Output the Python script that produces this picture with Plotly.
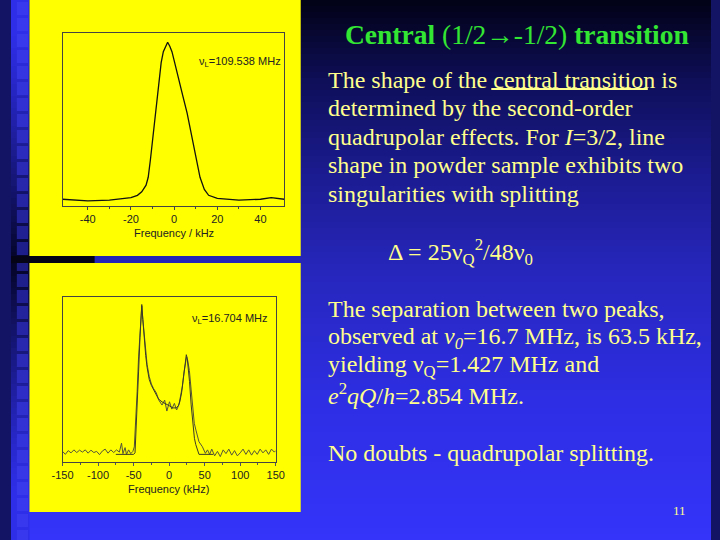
import plotly.graph_objects as go

# ---------------- data ----------------
# Top spectrum, nu_L = 109.538 MHz
top_freq = [-51.7, -45, -40, -30, -20, -17, -15, -13, -12, -11, -10, -9, -8, -7, -6,
            -5, -4, -3, -2, -1, 0, 2, 4, 6, 8, 10, 12, 14, 16, 20, 25, 30, 40, 45, 51]
top_int = [0.0, -0.008, -0.01, -0.005, 0.01, 0.025, 0.047, 0.09, 0.14, 0.25, 0.375, 0.5, 0.63, 0.76, 0.87,
           0.94, 0.97, 1.0, 0.975, 0.94, 0.885, 0.78, 0.66, 0.55, 0.42, 0.27, 0.14, 0.063, 0.025, 0.005, 0.0, -0.005, 0.0, 0.01, 0.0]

# Bottom spectrum, nu_L = 16.704 MHz : simulated (smooth) line
sim_freq = [-75, -50, -48, -47, -45, -43, -41, -39.5, -38.5, -37, -35, -33, -31, -28, -25, -22, -19, -15,
            -10, -5, 0, 5, 10, 13, 15, 17.5, 19.5, 21.5, 23, 24.2, 25.5, 27, 28.7, 31, 33.3, 35.6, 37.5, 39.3, 42, 62]
sim_int = [0, 0, 0.01, 0.1, 0.3, 0.55, 0.78, 0.95, 1.0, 0.9, 0.77, 0.66, 0.58, 0.5, 0.46, 0.43, 0.4, 0.37,
           0.35, 0.34, 0.325, 0.31, 0.31, 0.325, 0.35, 0.41, 0.49, 0.58, 0.63, 0.665, 0.64, 0.58, 0.485, 0.33, 0.2, 0.107, 0.065, 0.04, 0.0, 0.0]

# Bottom spectrum : experimental (noisy) line
exp_freq = [-150, -146, -142, -138, -134, -130, -126, -122, -118, -114, -110, -106, -102, -98, -94, -90, -86, -82, -78, -74, -70,
            -67, -65, -62, -60, -57, -54, -51,
            -49, -47, -45, -43, -41, -39.5, -38.5,
            -37, -35, -33, -31, -28, -25, -22, -18,
            -14.5, -10, -6.3, -3.2, 0.5, 3.7, 7.4, 10.5, 13.7,
            16, 18.5, 21, 23, 24.5, 26, 28.5,
            31, 33, 35.4, 37.7, 40, 42, 46.8, 51,
            54, 57, 60, 64, 68, 72, 76, 80, 84, 88, 92, 96, 100,
            104, 108, 112, 116, 120, 124, 128, 132, 136, 140, 144, 148, 150]
exp_int = [0.02, 0.0, 0.025, 0.01, 0.03, 0.012, 0.028, 0.015, 0.03, 0.008, 0.028, 0.012, 0.02, -0.002, 0.022, 0.035, 0.008, 0.03, 0.012, 0.03, 0.015,
           0.075, 0.005, 0.045, 0.0, 0.03, 0.005, 0.02,
           0.05, 0.2, 0.42, 0.65, 0.84, 0.96, 0.99,
           0.9, 0.79, 0.68, 0.6, 0.52, 0.47, 0.44, 0.41,
           0.362, 0.329, 0.362, 0.289, 0.351, 0.302, 0.34, 0.296, 0.33,
           0.38, 0.45, 0.55, 0.62, 0.65, 0.63, 0.56,
           0.43, 0.3, 0.207, 0.162, 0.118, 0.084, 0.051, 0.007,
           0.03, 0.0, 0.035, -0.01, 0.02, -0.015, 0.03, 0.005, 0.035, -0.005, 0.025, -0.01, 0.01,
           0.035, 0.0, 0.03, -0.005, 0.025, 0.0, 0.035, 0.01, 0.03, 0.0, 0.035, 0.015, 0.025]

top_ticks = [-40, -20, 0, 20, 40]
top_ticktext = ["-40", "-20", "0", "20", "40"]
bot_ticks = [-150, -100, -50, 0, 50, 100, 150]
bot_ticktext = ["-150", "-100", "-50", "0", "50", "100", "150"]

# ---------------- layout helpers ----------------
W, H = 720, 540
def X(p): return p / W
def Y(p): return 1 - p / H

def lerp(a, b, t):
    return tuple(int(round(a[i] + (b[i] - a[i]) * t)) for i in range(3))

def rgb(c): return "rgb(%d,%d,%d)" % c

bg_stops = [(0, (2, 2, 22)), (80, (14, 14, 88)), (180, (28, 28, 148)), (270, (38, 38, 188)),
            (400, (46, 46, 228)), (540, (52, 52, 250))]
def bg_col(y):
    for (y0, c0), (y1, c1) in zip(bg_stops[:-1], bg_stops[1:]):
        if y0 <= y <= y1:
            return lerp(c0, c1, (y - y0) / (y1 - y0))
    return bg_stops[-1][1]

shapes = []
step = 6
for y in range(0, H, step):
    shapes.append(dict(type="rect", xref="paper", yref="paper", layer="below",
                       x0=0, x1=1, y0=Y(y + step), y1=Y(y), line=dict(width=0),
                       fillcolor=rgb(bg_col(y + step / 2))))

# left decorative strip
def strip_t(y):
    t = max(0.0, 1 - abs(y - 262) / 230.0)
    return t ** 1.2
for y in range(0, H, step):
    t = strip_t(y + step / 2)
    shapes.append(dict(type="rect", xref="paper", yref="paper", layer="below",
                       x0=0, x1=X(19), y0=Y(y + step), y1=Y(y), line=dict(width=0),
                       fillcolor=rgb(lerp((46, 46, 232), (4, 4, 38), t))))
for y in range(2, H, 16):
    t = strip_t(y + 6)
    shapes.append(dict(type="rect", xref="paper", yref="paper", layer="below",
                       x0=X(6), x1=X(17.5), y0=Y(y + 13), y1=Y(y), line=dict(width=0),
                       fillcolor=rgb(lerp((56, 56, 238), (28, 28, 130), t))))

# dark bar between the panels
shapes.append(dict(type="rect", xref="paper", yref="paper", layer="below",
                   x0=0, x1=X(86), y0=Y(263), y1=Y(256), line=dict(width=0), fillcolor="rgb(4,4,22)"))
# yellow panels
for (y0, y1) in [(0, 256), (263, 512)]:
    shapes.append(dict(type="rect", xref="paper", yref="paper", layer="below",
                       x0=X(19), x1=X(298), y0=Y(y1), y1=Y(y0), line=dict(width=0), fillcolor="#ffff00"))

# underline for "central transition"
TXT = "#ffff8c"
shapes.append(dict(type="line", xref="paper", yref="paper", x0=X(494), x1=X(655),
                   y0=Y(89), y1=Y(89), line=dict(color=TXT, width=2)))

# ---------------- figure ----------------
fig = go.Figure()
fig.add_trace(go.Scatter(x=top_freq, y=top_int, mode="lines", line=dict(color="#111111", width=1.3),
                         xaxis="x", yaxis="y", showlegend=False, hoverinfo="skip"))
fig.add_trace(go.Scatter(x=exp_freq, y=exp_int, mode="lines", line=dict(color="#55553a", width=1),
                         xaxis="x2", yaxis="y2", showlegend=False, hoverinfo="skip"))
fig.add_trace(go.Scatter(x=sim_freq, y=sim_int, mode="lines", line=dict(color="#3a3a28", width=1),
                         xaxis="x2", yaxis="y2", showlegend=False, hoverinfo="skip"))

sans = "Liberation Sans, Arial, sans-serif"
tickfont = dict(family=sans, size=11, color="#222222")
ax_common = dict(showline=True, mirror=True, linecolor="#444444", linewidth=1, showgrid=False, zeroline=False)

fig.update_layout(
    width=W, height=H, margin=dict(l=0, r=0, t=0, b=0),
    paper_bgcolor="rgb(20,20,100)", plot_bgcolor="rgba(0,0,0,0)",
    shapes=shapes,
    xaxis=dict(domain=[X(53), X(281)], range=[-51.7, 51], tickvals=top_ticks, ticktext=top_ticktext,
               ticks="outside", ticklen=3, tickcolor="#444444", tickfont=tickfont,
               minor=dict(tickvals=[-30, -10, 10, 30], ticks="outside", ticklen=2, tickcolor="#444444"),
               anchor="y", **ax_common),
    yaxis=dict(domain=[Y(206), Y(33.3)], range=[-0.043, 1.057], showticklabels=False, ticks="",
               anchor="x", **ax_common),
    xaxis2=dict(domain=[X(53), X(272.3)], range=[-150, 150], tickvals=bot_ticks, ticktext=bot_ticktext,
                ticks="outside", ticklen=3, tickcolor="#555555", tickfont=tickfont,
                minor=dict(tickvals=[-125, -75, -25, 25, 75, 125], ticks="outside", ticklen=2, tickcolor="#555555"),
                anchor="y2", **ax_common),
    yaxis2=dict(domain=[Y(461.7), Y(296.7)], range=[-0.049, 1.052], showticklabels=False, ticks="",
                anchor="x2", **ax_common),
)

serif = "Liberation Serif, Times New Roman, serif"
ann = []
def A(text, x, y, size, color, anchor="left", family=serif):
    ann.append(dict(text=text, xref="paper", yref="paper", x=X(x), y=Y(y), xanchor=anchor, yanchor="middle",
                    showarrow=False, align="left", borderpad=0,
                    font=dict(family=family, size=size, color=color)))

A("ν<sub>L</sub>=109.538 MHz", 236, 61.5, 11, "#222222", "center", sans)
A("Frequency / kHz", 167.5, 232.5, 11, "#222222", "center", sans)
A("ν<sub>L</sub>=16.704 MHz", 225.5, 318.5, 11, "#222222", "center", sans)
A("Frequency (kHz)", 162.5, 488.5, 11, "#222222", "center", sans)

A("<b>Central</b> (1/2→-1/2) <b>transition</b>", 343, 34, 27.5, "#33e633")
body = [
    ("The shape of the central transition is", 79.5),
    ("determined by the second-order", 108),
    ("quadrupolar effects. For <i>I</i>=3/2, line", 137),
    ("shape in powder sample exhibits two", 165),
    ("singularities with splitting", 193.7),
    ("The separation between two peaks,", 309),
    ("observed at <i>ν<sub>0</sub></i>=16.7 MHz, is 63.5 kHz,", 338),
    ("yielding ν<sub>Q</sub>=1.427 MHz and", 366),
    ("<i>e</i><sup>2</sup><i>qQ</i>/<i>h</i>=2.854 MHz.", 394),
    ("No doubts - quadrupolar splitting.", 453),
]
for t, y in body:
    A(t, 325, y, 24, TXT)
A("Δ = 25ν<sub>Q</sub><sup>2</sup>/48ν<sub>0</sub>", 387, 252, 24, TXT)
A("11", 688, 510.5, 13, TXT, "center")

fig.update_layout(annotations=ann)
fig.write_html("out.html", config={"displayModeBar": False},
               post_script="document.body.style.margin='0';document.body.style.overflow='hidden';")
